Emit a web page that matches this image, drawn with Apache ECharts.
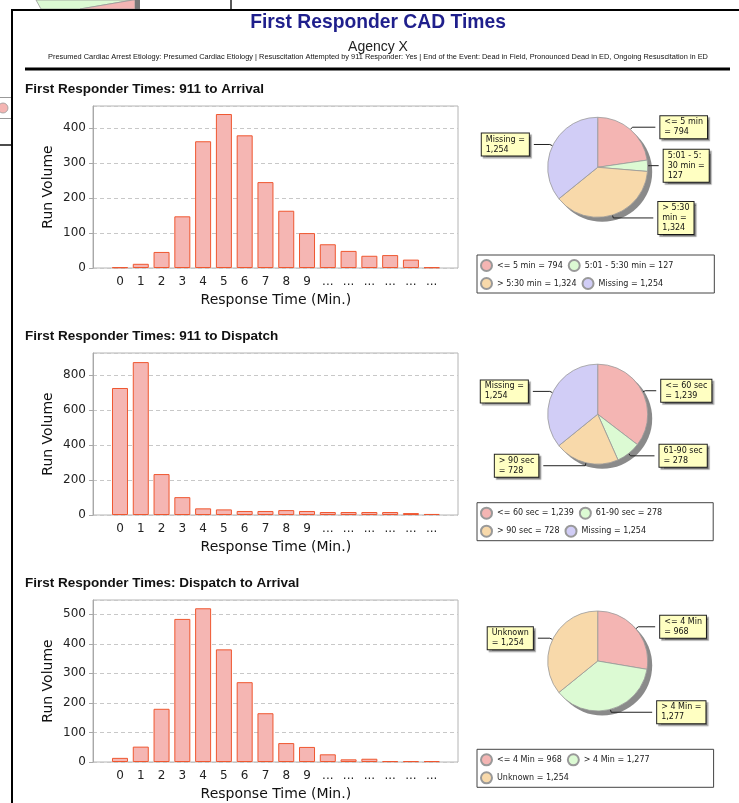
<!DOCTYPE html>
<html><head><meta charset="utf-8">
<script src="https://cdn.jsdelivr.net/npm/echarts@6/dist/echarts.min.js"></script>
<style>html,body{margin:0;padding:0;background:#fff;}#c{width:739px;height:803px;}</style>
</head><body><div id="c"></div>
<script>
// ---------- data ----------
const categories = ['0','1','2','3','4','5','6','7','8','9','10','11','12','13','14','15'];
const tickLabels = ['0','1','2','3','4','5','6','7','8','9','...','...','...','...','...','...'];
const arrivalRuns = [2, 12, 46, 148, 363, 441, 380, 246, 164, 100, 68, 49, 35, 37, 24, 2];
const dispatchRuns = [726, 874, 234, 102, 38, 32, 23, 23, 28, 23, 17, 17, 17, 17, 11, 6];
const dispatchToArrivalRuns = [14, 52, 180, 484, 520, 381, 270, 165, 64, 51, 26, 9, 11, 3, 3, 3];
const yMaxes = [464, 926, 548];
const yIntervals = [100, 200, 100];

const sectionTitles = ['First Responder Times: 911 to Arrival', 'First Responder Times: 911 to Dispatch', 'First Responder Times: Dispatch to Arrival'];

const pie1Names = ['<= 5 min', '5:01 - 5:30 min', '> 5:30 min', 'Missing'];
const pie1Values = [794, 127, 1324, 1254];
const pie1Labels = ['<= 5 min\n= 794', '5:01 - 5:\n30 min =\n127', '> 5:30\nmin =\n1,324', 'Missing =\n1,254'];

const pie2Names = ['<= 60 sec', '61-90 sec', '> 90 sec', 'Missing'];
const pie2Values = [1239, 278, 728, 1254];
const pie2Labels = ['<= 60 sec\n= 1,239', '61-90 sec\n= 278', '> 90 sec\n= 728', 'Missing =\n1,254'];

const pie3Names = ['<= 4 Min', '> 4 Min', 'Unknown'];
const pie3Values = [968, 1277, 1254];
const pie3Labels = ['<= 4 Min\n= 968', '> 4 Min =\n1,277', 'Unknown\n= 1,254'];

// ---------- styles / layout ----------
const FONT = 'DejaVu Sans';
const SANS = 'Liberation Sans';
const plotTops = [106, 353, 600];
const plotH = 162;
const pieCY = [167.3, 414.2, 661];
const pieCX = 597.7;
const pieR = 50;
const legendTops = [255, 502.7, 749.3];
const legendRightPad = [41, 51, 64];
const pie4Colors = ['#f4b5b3', '#dcfad3', '#f8d9aa', '#d1cdf6'];
const pie3Colors = ['#f4b5b3', '#dcfad3', '#f8d9aa'];
const leaders = [[23, 8, 40, 16], [11, 24, 42, 17], [17, 41, 12]];

const runs = [arrivalRuns, dispatchRuns, dispatchToArrivalRuns];
const pies = [
  {names: pie1Names, values: pie1Values, labels: pie1Labels, colors: pie4Colors},
  {names: pie2Names, values: pie2Values, labels: pie2Labels, colors: pie4Colors},
  {names: pie3Names, values: pie3Values, labels: pie3Labels, colors: pie3Colors}
];
const fmt = v => v.toLocaleString('en-US');

const grid = [], xAxis = [], yAxis = [], series = [], legend = [];
for (let i = 0; i < 3; i++) {
  grid.push({left: 93, top: plotTops[i], width: 365, height: plotH, show: true, borderColor: '#b4b4b4', borderWidth: 1, backgroundColor: 'transparent'});
  grid.push({left: 109.6, top: plotTops[i], width: 332.5, height: plotH});
  xAxis.push({gridIndex: 2*i, type: 'value', min: 0, max: 1, show: false});
  xAxis.push({gridIndex: 2*i+1, type: 'category', data: categories,
    axisLine: {show: false}, axisTick: {show: false},
    axisLabel: {interval: 0, margin: 8, fontSize: 12, fontFamily: FONT, color: '#222', formatter: (v, idx) => tickLabels[idx]},
    name: 'Response Time (Min.)', nameLocation: 'middle', nameGap: 25,
    nameTextStyle: {fontSize: 14, fontFamily: FONT, color: '#111'}});
  yAxis.push({gridIndex: 2*i, type: 'value', min: 0, max: yMaxes[i], interval: yIntervals[i],
    axisLine: {show: true, lineStyle: {color: '#a8a8a8'}},
    axisTick: {show: true, length: 4, lineStyle: {color: '#a8a8a8'}},
    axisLabel: {showMaxLabel: false, margin: 7, fontSize: 12, fontFamily: FONT, color: '#222'},
    splitLine: {show: true, lineStyle: {color: '#c8c8c8', type: [4, 3]}},
    name: 'Run Volume', nameLocation: 'middle', nameGap: 38,
    nameTextStyle: {fontSize: 14, fontFamily: FONT, color: '#111'}});
  yAxis.push({gridIndex: 2*i+1, type: 'value', min: 0, max: yMaxes[i], show: false});
  series.push({type: 'bar', xAxisIndex: 2*i+1, yAxisIndex: 2*i+1, data: runs[i], barWidth: 16, silent: true,
    itemStyle: {color: '#f5b6b3', borderColor: '#ef5730', borderWidth: 1}});

  const p = pies[i];
  const total = p.values.reduce((a, b) => a + b, 0);
  series.push({type: 'pie', center: [pieCX + 4.5, pieCY[i] + 4.5], radius: pieR, silent: true, z: 1,
    label: {show: false}, labelLine: {show: false}, emphasis: {disabled: true},
    itemStyle: {color: '#8a8a8a'}, data: [{name: '', value: total}]});
  series.push({type: 'pie', center: [pieCX, pieCY[i]], radius: pieR, startAngle: 90, clockwise: true,
    avoidLabelOverlap: false, silent: true, z: 2,
    itemStyle: {borderColor: '#999', borderWidth: 0.8},
    label: {show: true, position: 'outside', distanceToLabelLine: 5,
      formatter: prm => p.labels[prm.dataIndex].split('\n').map(s => '{t|' + s + '}').join('\n'),
      backgroundColor: '#ffffc2', borderColor: '#222', borderWidth: 1, padding: [1, 4, 1, 4],
      shadowColor: 'rgba(0,0,0,0.35)', shadowOffsetX: 2, shadowOffsetY: 2, shadowBlur: 1,
      rich: {t: {fontSize: 8, lineHeight: 10, fontFamily: FONT, color: '#111', align: 'left'}}},
    labelLine: {show: true, lineStyle: {color: '#222', width: 1}},
    data: p.names.map((n, j) => ({name: n, value: p.values[j], itemStyle: {color: p.colors[j]},
      labelLine: {length: 3, length2: leaders[i][j]}}))});
  legend.push({data: p.names, left: 477, top: legendTops[i], orient: 'horizontal', width: 235,
    padding: [4, legendRightPad[i], 3, 3], itemGap: 5, itemWidth: 11, itemHeight: 11, icon: 'circle',
    borderColor: '#444', borderWidth: 1, backgroundColor: '#fff', selectedMode: false,
    textStyle: {fontSize: 8, fontFamily: FONT, color: '#222'},
    formatter: name => name + ' = ' + fmt(p.values[p.names.indexOf(name)])});
}

const title = [
  {text: 'First Responder CAD Times', left: 378, top: 13, textAlign: 'center', padding: 0,
    textStyle: {fontSize: 19.3, fontWeight: 'bold', fontFamily: SANS, color: '#1f1f8c'}},
  {text: 'Agency X', left: 378, top: 40, textAlign: 'center', padding: 0,
    textStyle: {fontSize: 14, fontWeight: 'normal', fontFamily: SANS, color: '#222'}},
  {text: 'Presumed Cardiac Arrest Etiology: Presumed Cardiac Etiology | Resuscitation Attempted by 911 Responder: Yes | End of the Event: Dead in Field, Pronounced Dead in ED, Ongoing Resuscitation in ED',
    left: 378, top: 53, textAlign: 'center', padding: 0,
    textStyle: {fontSize: 7.4, fontWeight: 'normal', fontFamily: SANS, color: '#111'}}
];
sectionTitles.forEach((t, i) => title.push({text: t, left: 25, top: plotTops[i] - 24, padding: 0,
  textStyle: {fontSize: 13.5, fontWeight: 'bold', fontFamily: SANS, color: '#111'}}));

const graphic = [
  // background fragments peeking from behind the frame
  {type: 'polygon', shape: {points: [[36,0],[133,0],[80,9],[41,9]]}, style: {fill: '#dcfad3', stroke: '#999', lineWidth: 0.8}},
  {type: 'polygon', shape: {points: [[80,9],[133,0],[135,0],[135,9]]}, style: {fill: '#f4b5b3', stroke: '#999', lineWidth: 0.8}},
  {type: 'rect', shape: {x: 135, y: 0, width: 5, height: 9}, style: {fill: '#777'}},
  {type: 'line', shape: {x1: 231, y1: 0, x2: 231, y2: 10}, style: {stroke: '#222', lineWidth: 1.5}},
  {type: 'line', shape: {x1: 0, y1: 97.5, x2: 12, y2: 97.5}, style: {stroke: '#999', lineWidth: 1}},
  {type: 'circle', shape: {cx: 3, cy: 108, r: 5}, style: {fill: '#f4b5b3', stroke: '#999', lineWidth: 0.8}},
  {type: 'line', shape: {x1: 0, y1: 118.5, x2: 12, y2: 118.5}, style: {stroke: '#999', lineWidth: 1}},
  {type: 'line', shape: {x1: 0, y1: 145, x2: 12, y2: 145}, style: {stroke: '#111', lineWidth: 1.5}},
  // frame
  {type: 'rect', shape: {x: 12, y: 10, width: 727, height: 793}, style: {fill: '#fff'}, z: -10},
  {type: 'line', shape: {x1: 11, y1: 10, x2: 739, y2: 10}, style: {stroke: '#000', lineWidth: 2}},
  {type: 'line', shape: {x1: 12, y1: 10, x2: 12, y2: 803}, style: {stroke: '#000', lineWidth: 2}},
  {type: 'line', shape: {x1: 25, y1: 69, x2: 730, y2: 69}, style: {stroke: '#000', lineWidth: 3}}
];

const chart = echarts.init(document.getElementById('c'), null, {renderer: 'canvas'});
chart.setOption({animation: false, backgroundColor: '#fff', title, grid, xAxis, yAxis, series, legend, graphic});
</script></body></html>
